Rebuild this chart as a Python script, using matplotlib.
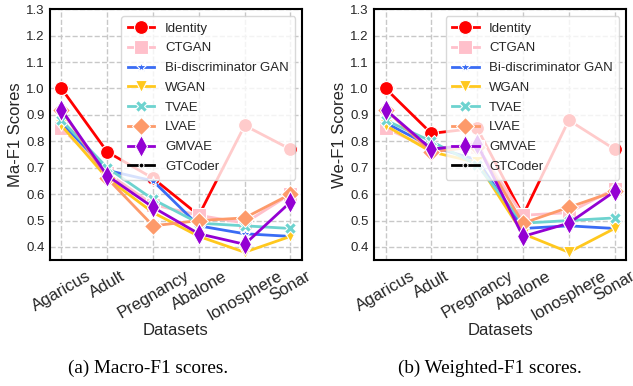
import numpy as np
import matplotlib
matplotlib.use('Agg')
import matplotlib.pyplot as plt

plt.rcParams['font.family'] = ['Liberation Sans', 'DejaVu Sans']

datasets = ['Agaricus', 'Adult', 'Pregnancy', 'Abalone', 'Ionosphere', 'Sonar']
methods = ['Identity', 'CTGAN', 'Bi-discriminator GAN', 'WGAN', 'TVAE', 'LVAE', 'GMVAE', 'GTCoder']

# Macro-F1
identity_ma = [1.00, 0.76, 0.66, 0.52, 0.86, 0.77]
ctgan_ma = [0.85, 0.68, 0.56, 0.52, 0.49, 0.60]
bidisc_ma = [0.87, 0.69, 0.65, 0.48, 0.45, 0.44]
wgan_ma = [0.86, 0.66, 0.53, 0.44, 0.38, 0.44]
tvae_ma = [0.88, 0.70, 0.58, 0.49, 0.48, 0.47]
lvae_ma = [0.92, 0.66, 0.48, 0.50, 0.51, 0.60]
gmvae_ma = [0.92, 0.67, 0.55, 0.45, 0.41, 0.57]
gtcoder_ma = [np.nan] * 6  # not visible in the chart, legend only

# Weighted-F1
identity_we = [1.00, 0.83, 0.85, 0.52, 0.88, 0.77]
ctgan_we = [0.85, 0.77, 0.78, 0.52, 0.53, 0.62]
bidisc_we = [0.87, 0.78, 0.73, 0.47, 0.48, 0.47]
wgan_we = [0.86, 0.76, 0.72, 0.45, 0.38, 0.47]
tvae_we = [0.88, 0.80, 0.71, 0.49, 0.50, 0.51]
lvae_we = [0.92, 0.76, 0.78, 0.49, 0.55, 0.61]
gmvae_we = [0.92, 0.77, 0.79, 0.44, 0.49, 0.61]
gtcoder_we = [np.nan] * 6

styles = {
    'Identity': dict(color='red', marker='o', ms=10),
    'CTGAN': dict(color='pink', marker='s', ms=10),
    'Bi-discriminator GAN': dict(color='#3a6cf4', marker='*', ms=7),
    'WGAN': dict(color='#ffc81e', marker='v', ms=9),
    'TVAE': dict(color='#6dd3cf', marker='X', ms=9),
    'LVAE': dict(color='#fd9a6a', marker='D', ms=9),
    'GMVAE': dict(color='#9400d3', marker='d', ms=11),
    'GTCoder': dict(color='black', marker='.', ms=7),
}

panels = [
    ('Ma-F1 Scores', [identity_ma, ctgan_ma, bidisc_ma, wgan_ma, tvae_ma, lvae_ma, gmvae_ma, gtcoder_ma],
     '(a) Macro-F1 scores.', 0.079, 0.234),
    ('We-F1 Scores', [identity_we, ctgan_we, bidisc_we, wgan_we, tvae_we, lvae_we, gmvae_we, gtcoder_we],
     '(b) Weighted-F1 scores.', 0.591, 0.774),
]

fig = plt.figure(figsize=(6.33, 3.86), dpi=100)
x = np.arange(len(datasets))
text_color = '#262626'

for ylabel, series, caption, left, cap_x in panels:
    ax = fig.add_axes([left, 0.326, 0.398, 0.650])
    for name, vals in zip(methods, series):
        st = styles[name]
        ax.plot(x, vals, color=st['color'], marker=st['marker'], markersize=st['ms'],
                markeredgecolor='white', markeredgewidth=0.8, linewidth=2, label=name)
    ax.set_ylim(0.35, 1.3)
    ax.set_xlim(-0.25, 5.25)
    ax.set_yticks(np.arange(0.4, 1.31, 0.1))
    ax.set_xticks(x)
    ax.set_xticklabels(datasets, rotation=30, ha='center')
    ax.tick_params(length=0, labelcolor=text_color)
    ax.tick_params(axis='x', labelsize=12, pad=6)
    ax.tick_params(axis='y', labelsize=9.5, pad=4)
    ax.grid(True, linestyle='--', color='#c8c8c8', linewidth=1)
    ax.set_axisbelow(True)
    for sp in ax.spines.values():
        sp.set_color('black')
        sp.set_linewidth(1.5)
    ax.set_ylabel(ylabel, fontsize=12, color=text_color, labelpad=2)
    ax.set_xlabel('Datasets', fontsize=12, color=text_color, labelpad=0)
    leg = ax.legend(loc='upper right', fontsize=9.5, framealpha=0.8, labelspacing=0.57,
                    handlelength=2.0, borderpad=0.5)
    leg.get_frame().set_edgecolor('#d0d0d0')
    for t in leg.get_texts():
        t.set_color(text_color)
    fig.text(cap_x, 0.047, caption, ha='center', va='center', fontsize=13.8,
             family=['Liberation Serif', 'DejaVu Serif'])

fig.savefig('out.png', dpi=100)
